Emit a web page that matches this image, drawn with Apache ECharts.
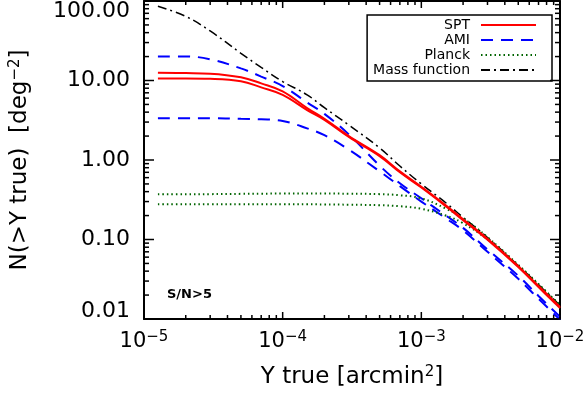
<!DOCTYPE html>
<html>
<head>
<meta charset="utf-8">
<script src="https://cdn.jsdelivr.net/npm/echarts@6/dist/echarts.min.js"></script>
<style>
  html, body { margin: 0; padding: 0; background: #fff; }
  #chart { width: 588px; height: 396px; }
</style>
</head>
<body>
<div id="chart"></div>
<script>
// Y true [arcmin^2]
const yTrue = [1.26e-5, 2e-5, 3e-5, 5e-5, 7e-5, 1e-4, 1.5e-4, 2e-4, 3e-4, 5e-4, 7e-4, 1e-3, 1.5e-3, 2e-3, 3e-3, 5e-3, 7e-3, 1e-2];
// N(>Y true) [deg^-2]
const sptHigh = [12.5, 12.4, 12.2, 11.0, 9.2, 7.3, 4.5, 3.3, 2.0, 1.15, 0.72, 0.46, 0.27, 0.18, 0.102, 0.046, 0.026, 0.0142];
const sptLow = [10.6, 10.6, 10.5, 9.8, 8.2, 6.6, 4.25, 3.2, 1.95, 1.12, 0.70, 0.45, 0.262, 0.175, 0.099, 0.045, 0.0252, 0.0137];
const amiHigh = [20, 20, 18.5, 14.2, 11.2, 8.5, 5.3, 3.8, 2.1, 0.85, 0.51, 0.33, 0.2, 0.14, 0.075, 0.035, 0.0195, 0.0107];
const amiLow = [3.35, 3.35, 3.35, 3.3, 3.25, 3.1, 2.5, 2.05, 1.35, 0.72, 0.47, 0.3, 0.185, 0.13, 0.07, 0.032, 0.018, 0.0098];
const planckHigh = [0.37, 0.37, 0.372, 0.375, 0.377, 0.378, 0.378, 0.378, 0.377, 0.372, 0.36, 0.33, 0.245, 0.185, 0.107, 0.048, 0.0275, 0.015];
const planckLow = [0.277, 0.277, 0.277, 0.277, 0.277, 0.277, 0.277, 0.276, 0.274, 0.27, 0.262, 0.243, 0.2, 0.16, 0.1, 0.047, 0.027, 0.0147];
const massFunc = [86, 64, 42, 22, 14.6, 9.7, 6.6, 4.55, 2.75, 1.42, 0.84, 0.5, 0.29, 0.19, 0.106, 0.047, 0.027, 0.0148];

const xTicks = [1e-5, 1e-4, 1e-3, 1e-2];
const yTicks = [0.01, 0.1, 1, 10, 100];

function minorOf(ticks) {
  const out = [];
  for (let i = 0; i < ticks.length - 1; i++) {
    for (let k = 2; k <= 9; k++) out.push(ticks[i] * k);
  }
  return out;
}

const FONT = 'DejaVu Sans';
const xMin = xTicks[0], xMax = xTicks[xTicks.length - 1];
const yMin = yTicks[0], yMax = yTicks[yTicks.length - 1];
const pairs = arr => yTrue.map((x, i) => [x, arr[i]]);

function line(name, data, color, width, type, z) {
  return {
    name: name,
    type: 'line',
    data: pairs(data),
    symbol: 'none',
    smooth: 0.4,
    z: z,
    lineStyle: { color: color, width: width, type: type },
    itemStyle: { color: color }
  };
}

const labelText = {
  type: 'text',
  left: 167,
  top: 288,
  style: { text: 'S/N>5', font: 'bold 13px "DejaVu Sans"', fill: '#000' }
};

const plainLine = { show: true, onZero: false, lineStyle: { color: '#000', width: 2 } };

const chart = echarts.init(document.getElementById('chart'), null, { renderer: 'canvas' });
chart.setOption({
  animation: false,
  backgroundColor: '#fff',
  grid: { left: 144, right: 28, top: 1, bottom: 77 },
  xAxis: [{
    type: 'log', logBase: 10, min: xMin, max: xMax,
    position: 'bottom',
    axisLine: plainLine,
    axisTick: { show: false },
    splitLine: { show: false },
    axisLabel: {
      margin: 11,
      formatter: v => '{b|10}{s|\u2212' + Math.abs(Math.round(Math.log10(v))) + '}',
      rich: {
        b: { fontFamily: FONT, fontSize: 21, lineHeight: 24, color: '#000' },
        s: { fontFamily: FONT, fontSize: 15, lineHeight: 15, verticalAlign: 'top', color: '#000' }
      }
    },
    name: '{n|Y true [arcmin}{s|2}{n|]}',
    nameLocation: 'middle',
    nameGap: 46,
    nameTextStyle: {
      rich: {
        n: { fontFamily: FONT, fontSize: 23, lineHeight: 25, color: '#000' },
        s: { fontFamily: FONT, fontSize: 15, lineHeight: 15, verticalAlign: 'top', color: '#000' }
      }
    }
  }, {
    type: 'log', logBase: 10, min: xMin, max: xMax,
    position: 'top',
    axisLine: plainLine,
    axisTick: { show: false },
    axisLabel: { show: false },
    splitLine: { show: false }
  }],
  yAxis: [{
    type: 'log', logBase: 10, min: yMin, max: yMax,
    position: 'left',
    axisLine: plainLine,
    axisTick: { show: false },
    splitLine: { show: false },
    axisLabel: {
      margin: 14,
      formatter: v => {
        const t = v.toFixed(2);
        if (Math.abs(v - yMax) < 1e-6) return '{t|' + t + '}';
        if (Math.abs(v - yMin) < 1e-9) return '{d|' + t + '}';
        return '{m|' + t + '}';
      },
      rich: {
        m: { fontFamily: FONT, fontSize: 22, color: '#000' },
        t: { fontFamily: FONT, fontSize: 22, color: '#000', padding: [20, 0, 0, 0] },
        d: { fontFamily: FONT, fontSize: 22, color: '#000', padding: [0, 0, 16, 0] }
      }
    },
    name: '{n|N(>Y true)  [deg}{s|\u22122}{n|]}',
    nameLocation: 'middle',
    nameGap: 111,
    nameTextStyle: {
      rich: {
        n: { fontFamily: FONT, fontSize: 23, lineHeight: 25, color: '#000' },
        s: { fontFamily: FONT, fontSize: 15, lineHeight: 15, verticalAlign: 'top', color: '#000' }
      }
    }
  }, {
    type: 'log', logBase: 10, min: yMin, max: yMax,
    position: 'right',
    axisLine: plainLine,
    axisTick: { show: false },
    axisLabel: { show: false },
    splitLine: { show: false }
  }],
  legend: {
    data: ['SPT', 'AMI', 'Planck', 'Mass function'],
    orient: 'vertical',
    align: 'right',
    right: 36,
    top: 15,
    itemWidth: 55,
    itemHeight: 14,
    itemGap: 1,
    padding: [3, 15, 4, 6],
    borderColor: '#000',
    borderWidth: 1.5,
    borderRadius: 0,
    selectedMode: false,
    itemStyle: { opacity: 0, color: 'transparent', borderWidth: 0 },
    textStyle: { fontFamily: FONT, fontSize: 14, color: '#000', padding: [0, 6, 0, 0] }
  },
  graphic: [labelText],
  series: [
    line('Mass function', massFunc, '#000', 1.5, [9, 4, 2, 4], 2),
    line('AMI', amiHigh, '#0000ff', 2, [12, 8], 3),
    line('AMI', amiLow, '#0000ff', 2, [12, 8], 3),
    line('Planck', planckHigh, '#006400', 2, [1.5, 3], 4),
    line('Planck', planckLow, '#006400', 2, [1.5, 3], 4),
    line('SPT', sptHigh, '#ff0000', 2, 'solid', 5),
    line('SPT', sptLow, '#ff0000', 2, 'solid', 5)
  ]
});

// inward ticks on all four sides, positioned through the chart's own scales
const px = (x, y) => chart.convertToPixel({ xAxisIndex: 0, yAxisIndex: 0 }, [x, y]);
function tickLine(x1, y1, x2, y2) {
  return { type: 'line', silent: true, z: 100, shape: { x1: x1, y1: y1, x2: x2, y2: y2 }, style: { stroke: '#000', lineWidth: 1.5 } };
}
const tickEls = [];
xTicks.map(v => [v, 7]).concat(minorOf(xTicks).map(v => [v, 4])).forEach(([v, len]) => {
  const b = px(v, yMin), t = px(v, yMax);
  tickEls.push(tickLine(b[0], b[1], b[0], b[1] - len));
  tickEls.push(tickLine(t[0], t[1], t[0], t[1] + len));
});
yTicks.map(v => [v, 10]).concat(minorOf(yTicks).map(v => [v, 5])).forEach(([v, len]) => {
  const l = px(xMin, v), r = px(xMax, v);
  tickEls.push(tickLine(l[0], l[1], l[0] + len, l[1]));
  tickEls.push(tickLine(r[0], r[1], r[0] - len, r[1]));
});
chart.setOption({ graphic: [labelText].concat(tickEls) }, { replaceMerge: ['graphic'] });
</script>
</body>
</html>
